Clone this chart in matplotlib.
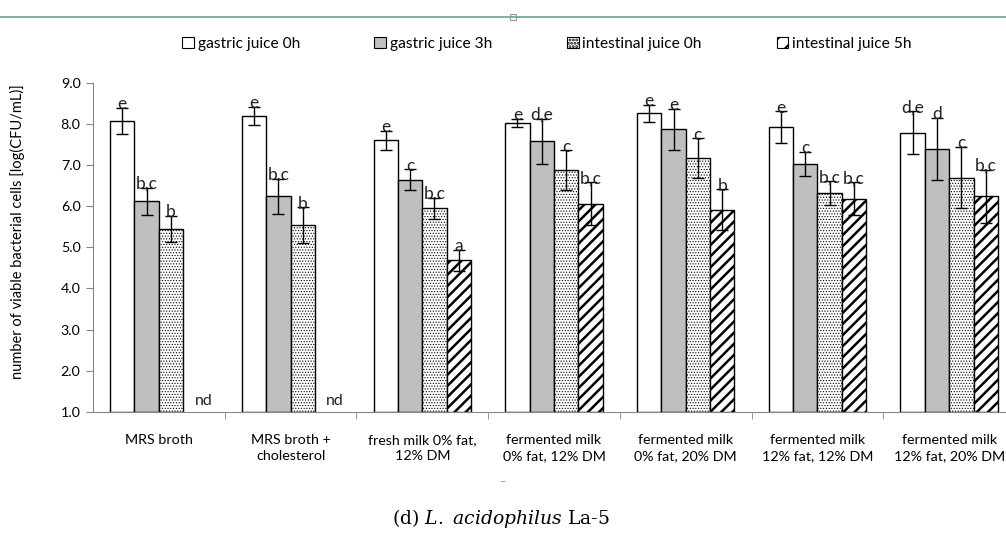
import numpy as np
import matplotlib.pyplot as plt
from matplotlib.lines import Line2D
from matplotlib.patches import Rectangle, Patch

plt.rcParams['font.family'] = ['Lato', 'DejaVu Sans']
plt.rcParams['mathtext.fontset'] = 'dejavuserif'

# samples on the x axis
categories = ['MRS broth', 'MRS broth +\ncholesterol', 'fresh milk 0% fat,\n12% DM',
              'fermented milk\n0% fat, 12% DM', 'fermented milk\n0% fat, 20% DM',
              'fermented milk\n12% fat, 12% DM', 'fermented milk\n12% fat, 20% DM']
series = ['gastric juice 0h', 'gastric juice 3h', 'intestinal juice 0h', 'intestinal juice 5h']

# log(CFU/mL), nan = not detected
gastric_0h = [8.08, 8.19, 7.61, 8.02, 8.26, 7.92, 7.79]
gastric_0h_err = [0.31, 0.22, 0.23, 0.10, 0.20, 0.39, 0.53]
gastric_3h = [6.12, 6.24, 6.65, 7.58, 7.87, 7.03, 7.40]
gastric_3h_err = [0.33, 0.43, 0.25, 0.55, 0.50, 0.29, 0.76]
intestinal_0h = [5.44, 5.54, 5.95, 6.88, 7.17, 6.32, 6.70]
intestinal_0h_err = [0.32, 0.43, 0.26, 0.48, 0.48, 0.29, 0.74]
intestinal_5h = [np.nan, np.nan, 4.68, 6.06, 5.92, 6.18, 6.24]
intestinal_5h_err = [0, 0, 0.25, 0.52, 0.49, 0.40, 0.65]

# significance letters
letters_g0 = ['e', 'e', 'e', 'e', 'e', 'e', 'd,e']
letters_g3 = ['b,c', 'b,c', 'c', 'd,e', 'e', 'c', 'd']
letters_i0 = ['b', 'b', 'b,c', 'c', 'c', 'b,c', 'c']
letters_i5 = ['', '', 'a', 'b,c', 'b', 'b,c', 'b,c']

values = [gastric_0h, gastric_3h, intestinal_0h, intestinal_5h]
errors = [gastric_0h_err, gastric_3h_err, intestinal_0h_err, intestinal_5h_err]
letters = [letters_g0, letters_g3, letters_i0, letters_i5]
faces = ['white', '#bfbfbf', 'white', 'white']
hatches = [None, None, '......', '///']
legend_hatches = [None, None, '.....', '//']
hatch_lw = [1.0, 1.0, 0.5, 1.8]
legend_hatch_lw = [1.0, 1.0, 0.3, 1.4]

fig = plt.figure(figsize=(10.06, 5.41), dpi=100)
ax = fig.add_axes([93 / 1006, 1 - 411.7 / 541, 922 / 1006, 328.7 / 541])

x = np.arange(len(categories))
w = 0.185
handles = []
for i in range(4):
    plt.rcParams['hatch.linewidth'] = hatch_lw[i]
    v = np.array(values[i], dtype=float)
    e = np.array(errors[i], dtype=float)
    pos = x + (i - 1.5) * w
    bars = ax.bar(pos, v - 1, bottom=1, width=w, color=faces[i], edgecolor='black',
                  linewidth=1.0, hatch=hatches[i], zorder=2)
    for b in bars:
        if hasattr(b, 'set_hatch_linewidth'):
            b.set_hatch_linewidth(hatch_lw[i])
    ok = ~np.isnan(v)
    ax.errorbar(pos[ok], v[ok], yerr=e[ok], fmt='none', ecolor='black', elinewidth=1.0,
                capsize=4, capthick=1.0, zorder=3)
    for j in range(len(categories)):
        if ok[j]:
            ax.text(pos[j], v[j] + e[j] - 0.03, letters[i][j], ha='center', va='baseline',
                    fontsize=12.5, color='#222222', zorder=4)
        else:
            ax.text(pos[j] + 0.06, 1.17, 'nd', ha='center', va='baseline',
                    fontsize=11.5, color='#222222')
    plt.rcParams['hatch.linewidth'] = legend_hatch_lw[i]
    h = Patch(facecolor=faces[i], edgecolor='black', hatch=legend_hatches[i], linewidth=0.8)
    if hasattr(h, 'set_hatch_linewidth'):
        h.set_hatch_linewidth(legend_hatch_lw[i])
    handles.append(h)

ax.set_xlim(-0.5, 6.5)
ax.set_ylim(1, 9)
ax.set_yticks(np.arange(1, 9.5, 1.0))
ax.set_yticklabels(['%.1f' % t for t in np.arange(1, 9.5, 1.0)])
ax.set_xticks(x)
ax.set_xticklabels(categories, fontsize=10.3, linespacing=1.4)
ax.set_xticks(x[:-1] + 0.5, minor=True)
ax.tick_params(axis='x', which='major', length=0, pad=16)
ax.tick_params(axis='x', which='minor', length=5, color='#868686', direction='out')
ax.tick_params(axis='y', length=5, color='#868686', labelsize=10.3, pad=4)
for s in ['top', 'right']:
    ax.spines[s].set_visible(False)
for s in ['left', 'bottom']:
    ax.spines[s].set_color('#868686')

fig.text(17 / 1006, 1 - 232 / 541, 'number of viable bacterial cells [log(CFU/mL)]',
         rotation=90, ha='center', va='center', fontsize=10.5)

fig.legend(handles, series, loc='center left', bbox_to_anchor=(182 / 1006, 1 - 44 / 541),
           ncol=4, frameon=False, fontsize=11.2, handlelength=0.75, handleheight=0.75,
           handletextpad=0.25, columnspacing=4.8, borderpad=0, borderaxespad=0)

# page elements around the figure
fig.add_artist(Line2D([0, 1], [1 - 17 / 541] * 2, color='#6aa584', lw=1.2,
                      transform=fig.transFigure))
fig.add_artist(Rectangle((510 / 1006, 1 - 20 / 541), 6 / 1006, 6 / 541, facecolor='white',
                         edgecolor='#999999', lw=0.8, transform=fig.transFigure))
fig.text(503 / 1006, 1 - 482 / 541, '–', ha='center', va='center', fontsize=8, color='#888888')
fig.text(501 / 1006, 1 - 518 / 541, r'(d) $\mathit{L.}$ $\mathit{acidophilus}$ La-5',
         ha='center', va='center', fontsize=13.5, family='DejaVu Serif')

fig.savefig('out.png', dpi=100)
